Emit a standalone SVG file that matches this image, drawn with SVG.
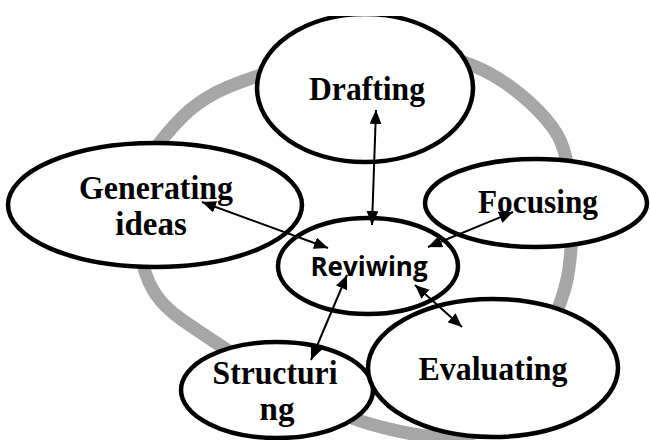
<svg xmlns="http://www.w3.org/2000/svg" width="650" height="440" viewBox="0 0 650 440">
<style>
.node ellipse{fill:#fff;stroke:#000;stroke-width:4.5}
.lbl{font-family:"Liberation Serif","Times New Roman",serif;font-weight:bold;font-size:33px;text-anchor:middle;fill:#000}
.lbl2{font-family:"Open Sans","Liberation Sans",sans-serif;font-weight:bold;font-size:26px;text-anchor:middle;fill:#000}
#connectors line{stroke:#000;stroke-width:2;marker-start:url(#ah);marker-end:url(#ah)}
</style>
<defs>
<marker id="ah" markerUnits="userSpaceOnUse" markerWidth="15" markerHeight="13" refX="14" refY="6" orient="auto-start-reverse">
<path d="M0,0 L14,6 L0,12 z" fill="#000"/>
</marker>
<clipPath id="topclip"><rect x="0" y="16" width="650" height="424"/></clipPath>
</defs>
<rect width="650" height="440" fill="#fff"/>
<path id="ring" fill="none" stroke="#a6a6a6" stroke-width="13" d="M365,52 C406,48.5 442.7,53.3 474,66 C505.3,78.7 536.8,105.7 553,128 C569.2,150.3 568.3,176.7 571,200 C573.7,223.3 571.5,248.8 569,268 C566.5,287.2 563.3,293 556,315 C548.7,337 541,379.8 525,400 C509,420.2 485.8,432 460,436 C434.2,440 398.3,432 370,424 C341.7,416 315.8,401.7 290,388 C264.2,374.3 236.7,356.7 215,342 C193.3,327.3 172.5,315.3 160,300 C147.5,284.7 143.3,268.3 140,250 C136.7,231.7 135.8,209 140,190 C144.2,171 150.3,153.2 165,136 C179.7,118.8 194.7,101 228,87 C261.3,73 324,55.5 365,52 Z"/>
<g id="generating" class="node">
<ellipse cx="155" cy="205" rx="147" ry="62"/>
<text class="lbl" x="156" y="199" textLength="154" lengthAdjust="spacingAndGlyphs">Generating</text>
<text class="lbl" x="151" y="235">ideas</text>
</g>
<g id="drafting" class="node" clip-path="url(#topclip)">
<ellipse cx="365" cy="88" rx="108" ry="74"/>
<text class="lbl" x="367" y="100" textLength="116" lengthAdjust="spacingAndGlyphs">Drafting</text>
</g>
<g id="focusing" class="node">
<ellipse cx="536" cy="203" rx="111" ry="44"/>
<text class="lbl" x="538" y="213" textLength="120" lengthAdjust="spacingAndGlyphs">Focusing</text>
</g>
<g id="reviwing" class="node">
<ellipse cx="368" cy="266" rx="90" ry="48"/>
<text class="lbl2" x="369" y="276">Reviwing</text>
</g>
<g id="structuring" class="node">
<ellipse cx="277" cy="390" rx="96" ry="48"/>
<text class="lbl" x="275" y="384" textLength="125" lengthAdjust="spacingAndGlyphs">Structuri</text>
<text class="lbl" x="277" y="420">ng</text>
</g>
<g id="evaluating" class="node">
<ellipse cx="493" cy="368" rx="125" ry="69"/>
<text class="lbl" x="493" y="380" textLength="149" lengthAdjust="spacingAndGlyphs">Evaluating</text>
</g>
<g id="connectors">
<line x1="376" y1="110" x2="372" y2="225"/>
<line x1="202" y1="202" x2="328" y2="248"/>
<line x1="513" y1="212" x2="428" y2="247"/>
<line x1="347" y1="275" x2="311" y2="360"/>
<line x1="415" y1="285" x2="462" y2="327"/>
</g>
</svg>
